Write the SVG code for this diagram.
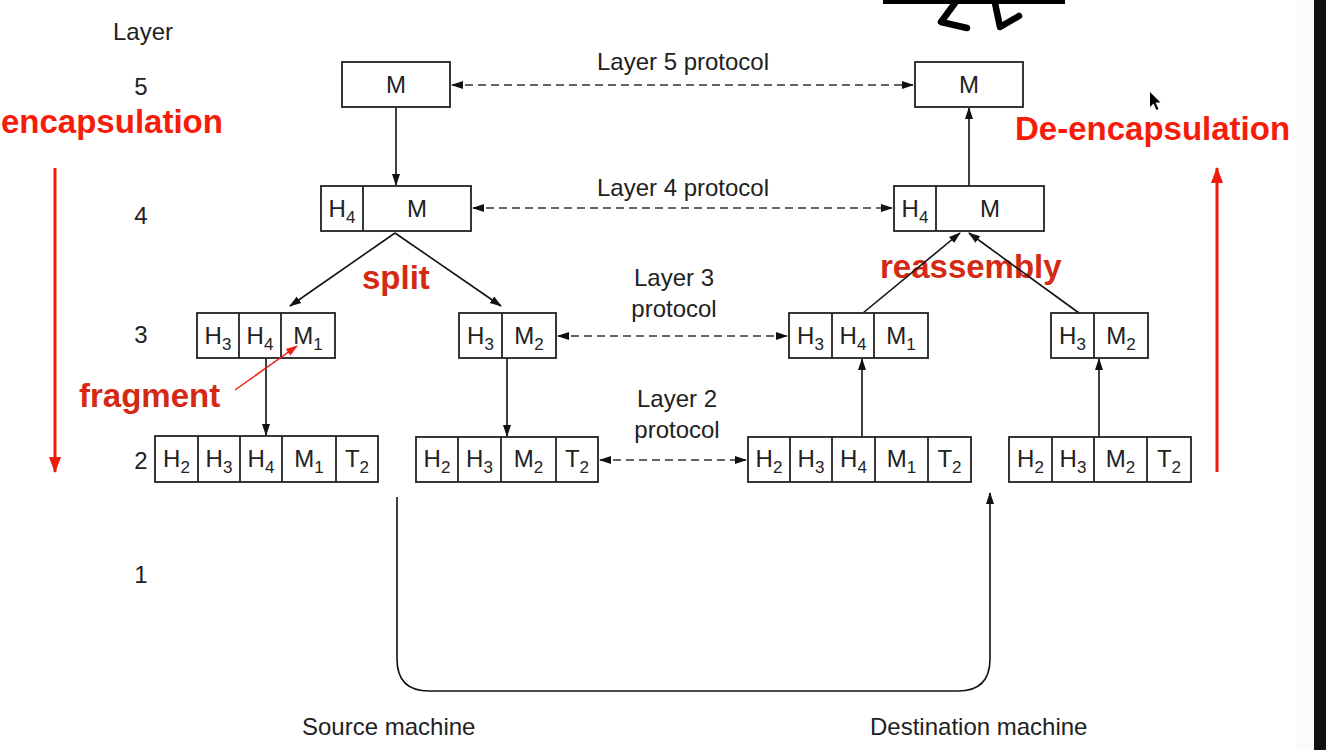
<svg xmlns="http://www.w3.org/2000/svg" width="1326" height="750" viewBox="0 0 1326 750">
<style>
.t{font-family:"Liberation Sans",Arial,sans-serif;font-size:24px;fill:#222}
.c{text-anchor:middle}
.s{font-size:17px}
.r{font-family:"Liberation Sans",Arial,sans-serif;font-size:33px;font-weight:bold}
.bx{fill:#fff;stroke:#222;stroke-width:1.8}
.dv{stroke:#222;stroke-width:1.8}
.ln{stroke:#111;stroke-width:1.6;fill:none}
.ds{stroke:#333;stroke-width:1.6;fill:none;stroke-dasharray:8 5}
</style>
<defs>
<marker id="ah" markerWidth="12" markerHeight="10" refX="11" refY="5" orient="auto-start-reverse" markerUnits="userSpaceOnUse">
<path d="M0,1 L12,5 L0,9 Z" fill="#111"/>
</marker>
<marker id="ahr" markerWidth="16" markerHeight="14" refX="15" refY="7" orient="auto" markerUnits="userSpaceOnUse">
<path d="M0,1 L16,7 L0,13 Z" fill="#f01a0a"/>
</marker>
<marker id="ahf" markerWidth="12" markerHeight="10" refX="11" refY="5" orient="auto" markerUnits="userSpaceOnUse">
<path d="M0,1 L12,5 L0,9 Z" fill="#ee2211"/>
</marker>
</defs>
<rect width="1326" height="750" fill="#fff"/>
<rect x="1296" y="0" width="18" height="750" fill="#fbfbfb"/>
<rect x="1314" y="0" width="12" height="750" fill="#111"/>
<g id="decor">
<rect x="883" y="0" width="182" height="4" fill="#000"/>
<polyline points="955,3 941,22 967,28" fill="none" stroke="#000" stroke-width="6.5" stroke-linejoin="round" stroke-linecap="round"/>
<polyline points="995,3 1000,27 1019,16" fill="none" stroke="#000" stroke-width="6.5" stroke-linejoin="round" stroke-linecap="round"/>
<path d="M1150,92 L1150,107 L1153.5,103.5 L1156.5,110 L1158.5,109 L1155.5,102.5 L1160.5,102.5 Z" fill="#000"/>
</g>
<g id="labels">
<text class="t" x="113" y="40">Layer</text>
<text class="t c" x="141" y="95">5</text>
<text class="t c" x="141" y="224">4</text>
<text class="t c" x="141" y="343">3</text>
<text class="t c" x="141" y="469">2</text>
<text class="t c" x="141" y="583">1</text>
<text class="t c" x="683" y="70">Layer 5 protocol</text>
<text class="t c" x="683" y="196">Layer 4 protocol</text>
<text class="t c" x="674" y="286">Layer 3</text>
<text class="t c" x="674" y="317">protocol</text>
<text class="t c" x="677" y="407">Layer 2</text>
<text class="t c" x="677" y="438">protocol</text>
<text class="t" x="302" y="735">Source machine</text>
<text class="t" x="870" y="735">Destination machine</text>
<text class="r" x="1" y="133" fill="#f51c0a">encapsulation</text>
<text class="r" x="1015" y="140" fill="#f51c0a">De-encapsulation</text>
<text class="r" x="362" y="289" fill="#d42a14">split</text>
<text class="r" x="880" y="278" fill="#d42a14">reassembly</text>
<text class="r" x="79" y="407" fill="#d42a14">fragment</text>
</g>
<g id="connectors">
<line x1="55" y1="168" x2="55" y2="472" stroke="#f01a0a" stroke-width="3" marker-end="url(#ahr)"/>
<line x1="1217" y1="472" x2="1217" y2="168" stroke="#f01a0a" stroke-width="3" marker-end="url(#ahr)"/>
<line class="ds" x1="452" y1="85" x2="913" y2="85" marker-start="url(#ah)" marker-end="url(#ah)"/>
<line class="ds" x1="473" y1="208" x2="892" y2="208" marker-start="url(#ah)" marker-end="url(#ah)"/>
<line class="ds" x1="558" y1="336" x2="787" y2="336" marker-start="url(#ah)" marker-end="url(#ah)"/>
<line class="ds" x1="600" y1="460" x2="746" y2="460" marker-start="url(#ah)" marker-end="url(#ah)"/>
<line class="ln" x1="396" y1="107" x2="396" y2="185" marker-end="url(#ah)"/>
<line class="ln" x1="969" y1="186" x2="969" y2="108" marker-end="url(#ah)"/>
<line class="ln" x1="395" y1="233" x2="290" y2="306" marker-end="url(#ah)"/>
<line class="ln" x1="395" y1="233" x2="501" y2="306" marker-end="url(#ah)"/>
<line class="ln" x1="863" y1="313" x2="960" y2="233" marker-end="url(#ah)"/>
<line class="ln" x1="1079" y1="313" x2="969" y2="233" marker-end="url(#ah)"/>
<line class="ln" x1="266" y1="358" x2="266" y2="435" marker-end="url(#ah)"/>
<line class="ln" x1="507" y1="358" x2="507" y2="436" marker-end="url(#ah)"/>
<line class="ln" x1="862" y1="437" x2="862" y2="359" marker-end="url(#ah)"/>
<line class="ln" x1="1099" y1="437" x2="1099" y2="359" marker-end="url(#ah)"/>
<path class="ln" d="M397,497 V659 Q397,691 429,691 H958 Q990,691 990,659 V493" marker-end="url(#ah)"/>
</g>
<g id="src-l5">
<rect class="bx" x="342" y="62" width="108" height="45"/>
<text class="t c" x="396" y="93">M</text>
</g>
<g id="dst-l5">
<rect class="bx" x="915" y="62" width="108" height="45"/>
<text class="t c" x="969" y="93">M</text>
</g>
<g id="src-l4">
<rect class="bx" x="321" y="186" width="150" height="45"/>
<line class="dv" x1="363" y1="186" x2="363" y2="231"/>
<text class="t c" x="342" y="217">H<tspan class="s" dy="6">4</tspan></text>
<text class="t c" x="417" y="217">M</text>
</g>
<g id="dst-l4">
<rect class="bx" x="894" y="186" width="150" height="45"/>
<line class="dv" x1="936" y1="186" x2="936" y2="231"/>
<text class="t c" x="915" y="217">H<tspan class="s" dy="6">4</tspan></text>
<text class="t c" x="990" y="217">M</text>
</g>
<g id="src-l3a">
<rect class="bx" x="197" y="313" width="138" height="45"/>
<line class="dv" x1="239" y1="313" x2="239" y2="358"/>
<line class="dv" x1="281" y1="313" x2="281" y2="358"/>
<text class="t c" x="218" y="344">H<tspan class="s" dy="6">3</tspan></text>
<text class="t c" x="260" y="344">H<tspan class="s" dy="6">4</tspan></text>
<text class="t c" x="308" y="344">M<tspan class="s" dy="6">1</tspan></text>
</g>
<g id="src-l3b">
<rect class="bx" x="459" y="313" width="97" height="45"/>
<line class="dv" x1="502" y1="313" x2="502" y2="358"/>
<text class="t c" x="480.5" y="344">H<tspan class="s" dy="6">3</tspan></text>
<text class="t c" x="529" y="344">M<tspan class="s" dy="6">2</tspan></text>
</g>
<g id="dst-l3a">
<rect class="bx" x="789" y="313" width="139" height="45"/>
<line class="dv" x1="832" y1="313" x2="832" y2="358"/>
<line class="dv" x1="874" y1="313" x2="874" y2="358"/>
<text class="t c" x="810.5" y="344">H<tspan class="s" dy="6">3</tspan></text>
<text class="t c" x="853" y="344">H<tspan class="s" dy="6">4</tspan></text>
<text class="t c" x="901" y="344">M<tspan class="s" dy="6">1</tspan></text>
</g>
<g id="dst-l3b">
<rect class="bx" x="1051" y="313" width="97" height="45"/>
<line class="dv" x1="1094" y1="313" x2="1094" y2="358"/>
<text class="t c" x="1072.5" y="344">H<tspan class="s" dy="6">3</tspan></text>
<text class="t c" x="1121" y="344">M<tspan class="s" dy="6">2</tspan></text>
</g>
<g id="src-l2a">
<rect class="bx" x="155" y="436" width="223" height="46"/>
<line class="dv" x1="198" y1="436" x2="198" y2="482"/>
<line class="dv" x1="240" y1="436" x2="240" y2="482"/>
<line class="dv" x1="282" y1="436" x2="282" y2="482"/>
<line class="dv" x1="336" y1="436" x2="336" y2="482"/>
<text class="t c" x="176.5" y="467">H<tspan class="s" dy="6">2</tspan></text>
<text class="t c" x="219" y="467">H<tspan class="s" dy="6">3</tspan></text>
<text class="t c" x="261" y="467">H<tspan class="s" dy="6">4</tspan></text>
<text class="t c" x="309" y="467">M<tspan class="s" dy="6">1</tspan></text>
<text class="t c" x="357" y="467">T<tspan class="s" dy="6">2</tspan></text>
</g>
<g id="src-l2b">
<rect class="bx" x="416" y="437" width="182" height="45"/>
<line class="dv" x1="458" y1="437" x2="458" y2="482"/>
<line class="dv" x1="501" y1="437" x2="501" y2="482"/>
<line class="dv" x1="556" y1="437" x2="556" y2="482"/>
<text class="t c" x="437" y="467">H<tspan class="s" dy="6">2</tspan></text>
<text class="t c" x="479.5" y="467">H<tspan class="s" dy="6">3</tspan></text>
<text class="t c" x="528.5" y="467">M<tspan class="s" dy="6">2</tspan></text>
<text class="t c" x="577" y="467">T<tspan class="s" dy="6">2</tspan></text>
</g>
<g id="dst-l2a">
<rect class="bx" x="748" y="437" width="223" height="45"/>
<line class="dv" x1="790" y1="437" x2="790" y2="482"/>
<line class="dv" x1="832" y1="437" x2="832" y2="482"/>
<line class="dv" x1="875" y1="437" x2="875" y2="482"/>
<line class="dv" x1="928" y1="437" x2="928" y2="482"/>
<text class="t c" x="769" y="467">H<tspan class="s" dy="6">2</tspan></text>
<text class="t c" x="811" y="467">H<tspan class="s" dy="6">3</tspan></text>
<text class="t c" x="853.5" y="467">H<tspan class="s" dy="6">4</tspan></text>
<text class="t c" x="901.5" y="467">M<tspan class="s" dy="6">1</tspan></text>
<text class="t c" x="949.5" y="467">T<tspan class="s" dy="6">2</tspan></text>
</g>
<g id="dst-l2b">
<rect class="bx" x="1009" y="437" width="182" height="45"/>
<line class="dv" x1="1052" y1="437" x2="1052" y2="482"/>
<line class="dv" x1="1094" y1="437" x2="1094" y2="482"/>
<line class="dv" x1="1147" y1="437" x2="1147" y2="482"/>
<text class="t c" x="1030.5" y="467">H<tspan class="s" dy="6">2</tspan></text>
<text class="t c" x="1073" y="467">H<tspan class="s" dy="6">3</tspan></text>
<text class="t c" x="1120.5" y="467">M<tspan class="s" dy="6">2</tspan></text>
<text class="t c" x="1169" y="467">T<tspan class="s" dy="6">2</tspan></text>
</g>
<g id="fragment-pointer">
<line x1="235" y1="390" x2="297" y2="346" stroke="#ee2211" stroke-width="1.5" marker-end="url(#ahf)"/>
</g>
</svg>
